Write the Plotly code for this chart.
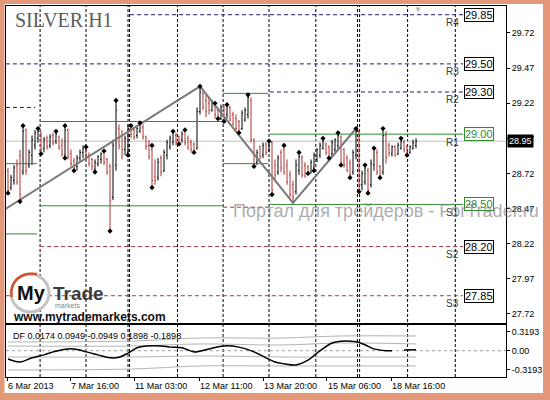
"""SILVER H1 terminal chart: OHLC bars, daily pivots, zigzag and DF oscillator."""

import plotly.graph_objects as go

# One H1 bar per index.
BAR_OPEN = [
    28.74, 28.62, 28.67, 28.78, 28.85, 28.73, 29.03, 28.78, 28.85, 28.92,
    28.97, 29.00, 28.90, 28.97, 28.92, 28.99, 28.95, 28.98, 28.92, 28.85,
    29.03, 28.86, 28.81, 28.77, 28.83, 28.87, 28.89, 28.85, 28.82, 28.75,
    28.79, 28.82, 28.87, 28.82, 28.77, 28.55, 28.78, 29.04, 28.99, 28.89,
    28.87, 29.04, 29.03, 28.99, 29.02, 29.05, 28.98, 28.92, 28.89, 28.70,
    28.69, 28.83, 28.74, 28.85, 28.91, 28.94, 28.99, 28.98, 28.96, 29.02,
    28.97, 28.94, 28.93, 28.90, 29.16, 29.29, 29.24, 29.22, 29.17, 29.21,
    29.17, 29.11, 29.19, 29.14, 29.19, 29.14, 29.11, 29.09, 29.04, 29.10,
    29.14, 29.24, 28.96, 28.80, 28.91, 28.85, 28.93, 28.89, 28.94, 28.78,
    28.73, 28.87, 28.89, 28.78, 28.71, 28.64, 28.59, 28.74, 28.83, 28.78,
    28.77, 28.73, 28.76, 28.82, 28.85, 28.90, 28.93, 28.91, 28.86, 28.89,
    28.92, 28.98, 28.89, 28.83, 28.79, 28.73, 28.85, 29.02, 28.64, 28.66,
    28.74, 28.64, 28.78, 28.87, 28.77, 28.73, 28.99, 28.92, 28.86, 28.91,
    28.86, 28.90, 28.94, 28.91, 28.87, 28.90, 28.92,
]
BAR_HIGH = [
    28.76, 28.71, 28.78, 28.82, 28.89, 29.06, 29.04, 28.89, 28.99, 29.03,
    29.04, 29.02, 28.98, 28.99, 29.00, 29.01, 29.02, 28.99, 28.97, 29.06,
    29.04, 28.89, 28.83, 28.85, 28.89, 28.92, 28.91, 28.87, 28.83, 28.82,
    28.85, 28.87, 28.88, 28.83, 28.79, 28.96, 29.24, 29.07, 29.03, 28.99,
    29.07, 29.06, 29.05, 29.06, 29.08, 29.07, 28.99, 28.96, 28.92, 28.82,
    28.83, 28.85, 28.89, 28.96, 28.99, 29.02, 29.01, 28.99, 29.02, 29.03,
    28.99, 28.96, 28.94, 29.19, 29.34, 29.31, 29.28, 29.26, 29.24, 29.22,
    29.19, 29.21, 29.21, 29.21, 29.20, 29.16, 29.14, 29.10, 29.17, 29.19,
    29.28, 29.26, 28.97, 28.89, 28.92, 28.94, 28.94, 28.95, 28.95, 28.82,
    28.85, 28.89, 28.92, 28.82, 28.74, 28.67, 28.82, 28.87, 28.85, 28.80,
    28.78, 28.82, 28.87, 28.90, 28.94, 28.97, 28.94, 28.92, 28.96, 28.97,
    29.01, 28.99, 28.90, 28.85, 28.82, 28.89, 29.04, 29.03, 28.74, 28.78,
    28.76, 28.82, 28.90, 28.89, 28.78, 29.04, 29.02, 28.94, 28.92, 28.92,
    28.94, 28.97, 28.96, 28.92, 28.92, 28.96, 28.97,
]
BAR_LOW = [
    28.58, 28.60, 28.64, 28.64, 28.52, 28.71, 28.71, 28.76, 28.78, 28.89,
    28.94, 28.86, 28.87, 28.89, 28.90, 28.92, 28.93, 28.89, 28.84, 28.83,
    28.82, 28.77, 28.74, 28.74, 28.80, 28.83, 28.82, 28.77, 28.74, 28.73,
    28.77, 28.79, 28.78, 28.71, 28.31, 28.53, 28.74, 28.89, 28.82, 28.85,
    28.85, 28.97, 28.96, 28.97, 29.01, 28.96, 28.89, 28.82, 28.62, 28.64,
    28.67, 28.70, 28.73, 28.82, 28.89, 28.92, 28.92, 28.93, 28.94, 28.92,
    28.89, 28.87, 28.87, 28.89, 29.14, 29.17, 29.12, 29.14, 29.16, 29.11,
    29.11, 29.10, 29.09, 29.11, 29.09, 29.06, 29.03, 29.01, 29.03, 29.09,
    29.11, 28.94, 28.77, 28.78, 28.82, 28.83, 28.85, 28.87, 28.57, 28.67,
    28.71, 28.73, 28.71, 28.64, 28.55, 28.51, 28.57, 28.71, 28.69, 28.69,
    28.72, 28.72, 28.74, 28.80, 28.83, 28.89, 28.85, 28.83, 28.84, 28.87,
    28.89, 28.78, 28.76, 28.73, 28.69, 28.71, 28.82, 28.59, 28.60, 28.64,
    28.58, 28.62, 28.74, 28.71, 28.69, 28.71, 28.79, 28.84, 28.84, 28.84,
    28.85, 28.89, 28.87, 28.85, 28.86, 28.89, 28.90,
]
BAR_CLOSE = [
    28.60, 28.69, 28.76, 28.66, 28.57, 29.02, 28.74, 28.87, 28.96, 29.01,
    29.02, 28.89, 28.96, 28.91, 28.98, 28.94, 29.00, 28.90, 28.86, 29.03,
    28.84, 28.79, 28.76, 28.83, 28.87, 28.90, 28.84, 28.79, 28.77, 28.80,
    28.84, 28.86, 28.80, 28.73, 28.53, 28.92, 29.17, 28.92, 28.89, 28.97,
    29.04, 29.00, 28.98, 29.04, 29.07, 28.98, 28.91, 28.84, 28.67, 28.67,
    28.80, 28.73, 28.87, 28.94, 28.97, 29.01, 28.94, 28.94, 29.00, 28.94,
    28.90, 28.89, 28.88, 29.16, 29.30, 29.19, 29.16, 29.17, 29.22, 29.14,
    29.13, 29.19, 29.11, 29.20, 29.10, 29.07, 29.04, 29.02, 29.15, 29.17,
    29.26, 28.96, 28.79, 28.87, 28.84, 28.92, 28.87, 28.94, 28.60, 28.71,
    28.83, 28.76, 28.73, 28.66, 28.57, 28.55, 28.78, 28.84, 28.71, 28.70,
    28.73, 28.80, 28.85, 28.89, 28.92, 28.95, 28.87, 28.84, 28.94, 28.96,
    28.99, 28.80, 28.78, 28.74, 28.71, 28.87, 29.02, 28.64, 28.72, 28.76,
    28.60, 28.79, 28.89, 28.73, 28.70, 28.99, 28.83, 28.87, 28.91, 28.85,
    28.92, 28.95, 28.89, 28.87, 28.91, 28.94, 28.95,
]

# Bars carrying a fractal mark above the high / below the low.
FRACTAL_UP = [5, 10, 16, 19, 26, 32, 36, 41, 44, 48, 55, 59, 64, 69, 73,
              80, 87, 92, 97, 105, 110, 116, 119, 122, 125, 131]
FRACTAL_DOWN = [0, 4, 11, 19, 22, 29, 34, 40, 48, 57, 62, 70, 72, 77, 82,
                88, 100, 102, 107, 111, 114, 117, 120, 124, 133]

ZIGZAG_X = [-1, 64, 95, 116]
ZIGZAG_Y = [28.465, 29.34, 28.51, 29.04]

# Daily pivot segments: (price, first bar, last bar).
NAVY_LEVELS = [(29.85, 40.7, 151.7), (29.50, -0.7, 151.7),
               (29.30, 87.3, 151.7), (29.19, -0.7, 9.0)]
GREEN_LEVELS = [(29.09, 10.7, 71.3), (29.29, 71.7, 86.7), (29.00, 87.3, 151.7),
                (28.79, 71.7, 86.7), (28.79, -0.7, 9.7), (28.29, -0.7, 9.7),
                (28.49, 10.7, 71.3), (28.50, 87.3, 151.7)]
RED_LEVELS = [(28.48, 71.7, 86.7), (28.20, 10.7, 151.7), (27.85, -0.7, 151.7)]

PIVOT_NAMES = ["R4", "R3", "R2", "R1", "S1", "S2", "S3"]
PIVOT_PRICES = [29.85, 29.50, 29.30, 29.00, 28.50, 28.20, 27.85]
LAST_PRICE = 28.95

PRICE_TICKS = [29.72, 29.47, 29.22, 28.97, 28.72, 28.47, 28.22, 27.97, 27.72]
TIME_TICKS = [-0.3, 20.7, 42.0, 63.7, 85.0, 106.3, 127.7]
TIME_LABELS = ["6 Mar 2013", "7 Mar 16:00", "11 Mar 03:00", "12 Mar 11:00",
               "13 Mar 20:00", "15 Mar 06:00", "18 Mar 16:00"]
GRID_BARS = [10.7, 26.0, 40.0, 40.5, 56.5, 71.7, 87.0, 102.6, 116.5, 117.2,
             133.2, 149.1]

# DF oscillator (bottom pane).
DF_X = [0, 4, 8, 12, 15, 20, 24, 26, 30, 34, 37, 40, 43, 46, 51, 54, 58, 62,
        67, 72, 77, 82, 86, 89, 92, 96, 100, 103, 108, 111, 116, 119, 122,
        126, 128, 130, 132, 136]
DF_Y = [-0.14, -0.19, -0.12, -0.07, -0.02, 0.03, 0.01, -0.02, -0.07, -0.12,
        -0.11, -0.04, 0.05, 0.08, 0.08, 0.06, 0.05, -0.02, 0.03, 0.08, 0.06,
        -0.02, -0.12, -0.19, -0.22, -0.24, -0.16, -0.04, 0.13, 0.16, 0.15,
        0.10, 0.03, 0.00, 0.00, None, 0.01, 0.017]
BAND_X = [0, 41, 64, 91, 111, 136]
BAND_UPPER_2 = [0.146, 0.163, 0.213, 0.213, 0.247, 0.247]
BAND_UPPER_1 = [0.079, 0.079, 0.113, 0.096, 0.129, 0.113]
BAND_LOWER_1 = [-0.106, -0.106, -0.089, -0.106, -0.106, -0.106]
BAND_LOWER_2 = [-0.324, -0.308, -0.257, -0.257, -0.257, -0.257]
DF_TICKS = [0.3193, 0.0, -0.3193]
DF_TICK_TEXT = ["0.3193", "0.00", "-0.3193"]

UP = "#000000"
DOWN = "#b03530"
NAVY = "#1c1c78"
GREEN = "#2f8a2f"
RED = "#a83a3a"
FRAME = "#e4987a"
FONT = "Liberation Sans"


def px_x(px: float) -> float:
    """Screen x (pixels) -> paper x, for decorations outside the data."""
    return (px - 6) / 500


def px_y(py: float) -> float:
    return (377 - py) / 371


def note(px, py, text, size, colour="#000000", family=FONT, anchor="left"):
    """Free text placed in screen pixels (paper coordinates)."""
    fig.add_annotation(
        x=px_x(px), y=px_y(py), xref="paper", yref="paper",
        xanchor=anchor, yanchor="middle", text=text, showarrow=False,
        borderpad=0, font=dict(family=family, size=size, color=colour),
    )


fig = go.Figure()

# price pane -----------------------------------------------------------
n = len(BAR_OPEN)
fig.add_trace(go.Ohlc(
    x=list(range(n)), open=BAR_OPEN, high=BAR_HIGH, low=BAR_LOW, close=BAR_CLOSE,
    increasing=dict(line=dict(color=UP, width=1)),
    decreasing=dict(line=dict(color=DOWN, width=1)),
    tickwidth=0.35, xaxis="x", yaxis="y",
))

for levels, colour, dash in ((NAVY_LEVELS, NAVY, "4px,3px"),
                             (GREEN_LEVELS, GREEN, "solid"),
                             (RED_LEVELS, RED, "4px,3px")):
    for price, x0, x1 in levels:
        fig.add_trace(go.Scatter(
            x=[x0, x1], y=[price, price], mode="lines",
            line=dict(color=colour, width=1, dash=dash),
            xaxis="x", yaxis="y", hoverinfo="skip",
        ))

fig.add_trace(go.Scatter(
    x=ZIGZAG_X, y=ZIGZAG_Y, mode="lines",
    line=dict(color="#7a7a7a", width=2), xaxis="x", yaxis="y",
))
fig.add_trace(go.Scatter(
    x=FRACTAL_UP, y=[BAR_HIGH[i] for i in FRACTAL_UP], mode="markers",
    marker=dict(symbol="diamond", size=4, color="#000000"),
    xaxis="x", yaxis="y",
))
fig.add_trace(go.Scatter(
    x=FRACTAL_DOWN, y=[BAR_LOW[i] for i in FRACTAL_DOWN], mode="markers",
    marker=dict(symbol="diamond", size=4, color="#000000"),
    xaxis="x", yaxis="y",
))

# oscillator pane ------------------------------------------------------
fig.add_trace(go.Scatter(
    x=[-0.7, 166], y=[0, 0], mode="lines",
    line=dict(color="#9a9a9a", width=1, dash="3px,3px"), xaxis="x2", yaxis="y2",
))
for band in (BAND_UPPER_2, BAND_UPPER_1, BAND_LOWER_1, BAND_LOWER_2):
    fig.add_trace(go.Scatter(
        x=BAND_X, y=band, mode="lines", line_shape="spline",
        line=dict(color="#b4b4b4", width=1), xaxis="x2", yaxis="y2",
    ))
fig.add_trace(go.Scatter(
    x=DF_X, y=DF_Y, mode="lines", line_shape="spline",
    line=dict(color="#000000", width=1.5), xaxis="x2", yaxis="y2",
))

# grid + last price line
for g in GRID_BARS:
    fig.add_shape(type="line", xref="x", yref="paper", x0=g, x1=g, y0=0, y1=1,
                  line=dict(color="#000000", width=1, dash="3px,2px"),
                  layer="below")
fig.add_shape(type="line", xref="paper", yref="y", x0=0, x1=1,
              y0=LAST_PRICE, y1=LAST_PRICE,
              line=dict(color="#c0c0c0", width=1), layer="below")

# pivot tags on the right
for name, price in zip(PIVOT_NAMES, PIVOT_PRICES):
    colour = GREEN if name in ("R1", "S1") else "#000000"
    fig.add_annotation(
        x=152, y=price, xref="x", yref="y", xanchor="left", yanchor="middle",
        text=f"{price:.2f}", showarrow=False, bgcolor="#ffffff",
        bordercolor=colour, borderwidth=1, borderpad=0,
        font=dict(family=FONT, size=11, color=colour),
    )
    fig.add_annotation(
        x=148.3, y=price, xref="x", yref="y", yshift=-8, text=name,
        xanchor="center", yanchor="middle",
        showarrow=False, font=dict(family=FONT, size=10, color="#3a3a3a"),
    )

fig.add_annotation(
    x=1, y=LAST_PRICE, xref="paper", yref="y", xanchor="left",
    yanchor="middle", xshift=1,
    text="28.95", showarrow=False, bgcolor="#000000", borderpad=1,
    font=dict(family=FONT, size=9, color="#ffffff"),
)

# texts and logo
note(14, 20, "SILVER H1", 20, "#5c5c5c", family="Liberation Serif")
fig.add_annotation(
    x=136.7, y=29.885, xref="x", yref="y", text="▼", showarrow=False,
    font=dict(family=FONT, size=8, color="#b0b0b0"),
)
note(232, 211, "Портал для трейдеров - ForTrader.ru", 18,
     "rgba(125,125,125,0.65)")
note(12, 336, "DF 0.0174 0.0949 -0.0949 0.1898 -0.1898", 9)

fig.add_shape(type="circle", xref="paper", yref="paper",
              x0=px_x(11), x1=px_x(49), y0=px_y(312), y1=px_y(274),
              line=dict(color="#c4c4c4", width=3), fillcolor="#ffffff")
fig.add_shape(type="path", xref="paper", yref="paper",
              path=(f"M {px_x(11.5)},{px_y(297)} C {px_x(10)},{px_y(281)} "
                    f"{px_x(20)},{px_y(272)} {px_x(37)},{px_y(274)}"),
              line=dict(color="#d2552f", width=2.5))
note(31, 293, "<b>My</b>", 20, "#111111", anchor="center")
note(52, 293, "<b>Trade</b>", 19, "#3c3c3c")
note(54, 305, "markets", 7, "#888888")
note(12, 317, "<b>www.mytrademarkets.com</b>", 12, "#111111")

# salmon window frame
for x0, x1, y0, y1 in ((0, 4.5, 0, 400), (543, 550, 0, 400),
                       (0, 550, 0, 4), (0, 550, 393, 400)):
    fig.add_shape(type="rect", xref="paper", yref="paper",
                  x0=px_x(x0), x1=px_x(x1), y0=px_y(y0), y1=px_y(y1),
                  fillcolor=FRAME, line=dict(width=0), layer="above")

axis_common = dict(showgrid=False, zeroline=False, showline=True, mirror=True,
                   linecolor="#000000", linewidth=1)

fig.update_layout(
    width=550, height=400,
    margin=dict(l=6, r=44, t=6, b=23),
    paper_bgcolor="#ffffff", plot_bgcolor="#ffffff",
    font=dict(family=FONT, size=9, color="#000000"),
    showlegend=False,
    xaxis=dict(domain=[0, 1], anchor="y", range=[-0.667, 166],
               showticklabels=False, ticks="", rangeslider=dict(visible=False),
               **axis_common),
    yaxis=dict(domain=[0.1456, 1], anchor="x", side="right",
               range=[27.656, 29.912], tickvals=PRICE_TICKS,
               ticktext=[f"{v:.2f}" for v in PRICE_TICKS],
               ticks="outside", ticklen=3, tickcolor="#000000",
               tickfont=dict(size=9), **axis_common),
    xaxis2=dict(domain=[0, 1], anchor="y2", matches="x", range=[-0.667, 166],
                tickvals=TIME_TICKS, ticktext=TIME_LABELS,
                ticklabelposition="outside right", ticks="outside", ticklen=3,
                tickcolor="#000000", tickfont=dict(size=9),
                rangeslider=dict(visible=False), **axis_common),
    yaxis2=dict(domain=[0, 0.1402], anchor="x2", side="right",
                range=[-0.442, 0.432], tickvals=DF_TICKS, ticktext=DF_TICK_TEXT,
                ticks="outside", ticklen=3, tickcolor="#000000",
                tickfont=dict(size=9), **axis_common),
)

# the page's default body margin would shift the 550x400 figure off-window
fig.write_html("out.html", config={"displayModeBar": False},
               post_script="document.body.style.margin = '0';")
